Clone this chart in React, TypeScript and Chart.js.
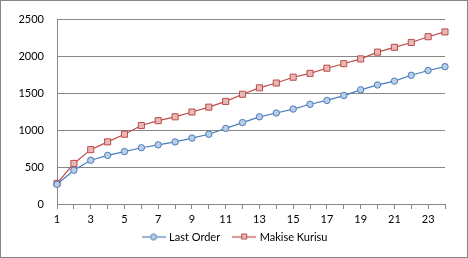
import React, { useEffect, useRef } from "react";
import { Chart, registerables } from "chart.js";

Chart.register(...registerables);

const categories = ["1","2","3","4","5","6","7","8","9","10","11","12","13","14","15","16","17","18","19","20","21","22","23","24"];
const lastOrder = [267, 458, 593, 659, 711, 763, 802, 842, 894, 946, 1025, 1104, 1182, 1234, 1287, 1352, 1404, 1470, 1548, 1614, 1666, 1745, 1810, 1862];
const makiseKurisu = [279, 550, 737, 842, 946, 1064, 1130, 1182, 1247, 1313, 1391, 1488, 1575, 1640, 1719, 1771, 1841, 1902, 1967, 2059, 2124, 2190, 2268, 2333];
const seriesNames = ["Last Order", "Makise Kurisu"];

const BLUE = "#4A7EBB";
const BLUE_FILL = "#B9CDE5";
const RED = "#BE4B48";
const RED_FILL = "#E6B9B8";
const GRID = "#868686";
const FONT = "Lato, 'Liberation Sans', sans-serif";
const LEGEND_FONT = 11;
const LEGEND_PAD = 14;
const LEGEND_CENTER_Y = 237;
const LEGEND_SHIFT_X = 13;

function legendIcon(line: string, fill: string, shape: "circle" | "rect"): HTMLCanvasElement {
  const c = document.createElement("canvas");
  c.width = 24;
  c.height = 9;
  const ctx = c.getContext("2d")!;
  ctx.strokeStyle = line;
  ctx.lineWidth = 1.2;
  ctx.beginPath();
  ctx.moveTo(0, 4.5);
  ctx.lineTo(24, 4.5);
  ctx.stroke();
  ctx.fillStyle = fill;
  ctx.lineWidth = 1;
  ctx.beginPath();
  if (shape === "circle") {
    ctx.arc(12, 4.5, 3, 0, Math.PI * 2);
  } else {
    ctx.rect(9.5, 1.5, 5, 5);
  }
  ctx.fill();
  ctx.stroke();
  return c;
}

const frame = {
  id: "frame",
  beforeDraw(chart: any) {
    const ctx = chart.ctx;
    ctx.save();
    ctx.fillStyle = "#ffffff";
    ctx.fillRect(0, 0, chart.width, chart.height);
    ctx.restore();
  },
  afterLayout(chart: any) {
    const lg = chart.legend;
    if (lg) {
      const h = lg.height;
      lg.top = LEGEND_CENTER_Y - (LEGEND_PAD + LEGEND_FONT / 2);
      lg.bottom = lg.top + h;
      lg.left += LEGEND_SHIFT_X;
      lg.right += LEGEND_SHIFT_X;
    }
  },
  afterDraw(chart: any) {
    const ctx = chart.ctx;
    ctx.save();
    ctx.strokeStyle = GRID;
    ctx.lineWidth = 1;
    ctx.strokeRect(0.5, 0.5, chart.width - 1, chart.height - 1);
    ctx.restore();
  },
};

export default function App() {
  const ref = useRef<HTMLCanvasElement | null>(null);

  useEffect(() => {
    document.body.style.margin = "0";
    const icons = [legendIcon(BLUE, BLUE_FILL, "circle"), legendIcon(RED, RED_FILL, "rect")];
    const chart = new Chart(ref.current!, {
      type: "line",
      data: {
        labels: categories,
        datasets: [
          {
            label: seriesNames[0],
            data: lastOrder,
            borderColor: BLUE,
            backgroundColor: BLUE_FILL,
            borderWidth: 1.2,
            pointStyle: "circle",
            pointRadius: 3.2,
            pointBorderWidth: 1,
            pointBorderColor: BLUE,
            pointBackgroundColor: BLUE_FILL,
            tension: 0,
          },
          {
            label: seriesNames[1],
            data: makiseKurisu,
            borderColor: RED,
            backgroundColor: RED_FILL,
            borderWidth: 1.2,
            pointStyle: "rect",
            pointRadius: 4.3,
            pointBorderWidth: 1,
            pointBorderColor: RED,
            pointBackgroundColor: RED_FILL,
            tension: 0,
          },
        ],
      },
      options: {
        responsive: false,
        animation: false,
        devicePixelRatio: 1,
        layout: { padding: { left: 0, top: 13, right: 23, bottom: -3 } },
        plugins: {
          tooltip: { enabled: false },
          legend: {
            position: "bottom",
            labels: {
              usePointStyle: true,
              pointStyleWidth: 20,
              padding: LEGEND_PAD,
              color: "#000",
              font: { family: FONT, size: LEGEND_FONT },
              generateLabels: (ch: any) =>
                ch.data.datasets.map((ds: any, i: number) => ({
                  text: ds.label,
                  pointStyle: icons[i],
                  fillStyle: ds.backgroundColor,
                  strokeStyle: ds.borderColor,
                  lineWidth: 0,
                  datasetIndex: i,
                  fontColor: "#000",
                })),
            },
          },
        },
        scales: {
          x: {
            type: "category",
            offset: false,
            afterFit: (s: any) => {
              s.height = 22;
            },
            grid: {
              offset: false,
              drawOnChartArea: false,
              drawTicks: true,
              tickLength: 5,
              color: GRID,
            },
            border: { display: true, color: GRID },
            ticks: {
              autoSkip: false,
              maxRotation: 0,
              padding: 4,
              color: "#000",
              font: { family: FONT, size: 11 },
              callback: (_v: any, i: number) => (i % 2 === 0 ? categories[i] : ""),
            },
          },
          y: {
            min: 0,
            max: 2500,
            afterFit: (s: any) => {
              s.width = 57;
            },
            grid: { color: GRID, drawTicks: false },
            border: { display: true, color: GRID },
            ticks: {
              stepSize: 500,
              padding: 13,
              color: "#000",
              font: { family: FONT, size: 11 },
              callback: (v: any) => String(v),
            },
          },
        },
      },
      plugins: [frame],
    });
    return () => chart.destroy();
  }, []);

  return (
    <div style={{ width: 468, height: 258 }}>
      <canvas ref={ref} width={468} height={258} />
    </div>
  );
}
